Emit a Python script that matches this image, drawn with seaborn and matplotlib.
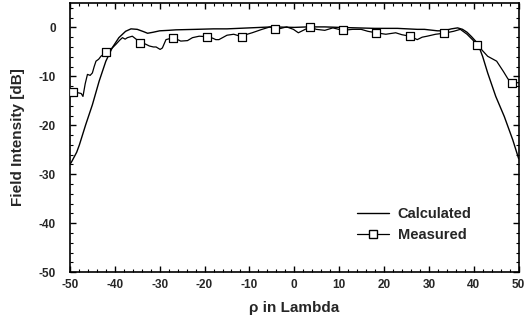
import matplotlib
matplotlib.use("Agg")
import matplotlib.pyplot as plt
from matplotlib.lines import Line2D
from matplotlib.ticker import MultipleLocator
import seaborn as sns
import pandas as pd

calc_x = [-50, -49.6, -48.5, -47.9, -46.5, -45, -43.5, -42, -40.6, -39.1, -37.6, -36.4, -35, -33.5,
          -32.7, -31.5, -30, -28, -26.4, -22, -18, -15, -10, -5, 0, 3, 6.8, 10, 14, 17.9, 23, 27.4,
          29, 31.9, 33.3, 35, 36.4, 37.5, 38.5, 39.5, 40.9, 42, 43.1, 44.9, 46.8, 48.7, 50]
calc_y = [-28, -27.4, -25.5, -24, -19.9, -15.8, -11, -6.9, -4.2, -2.1, -0.8, -0.3, -0.4, -0.9,
          -1.2, -1.0, -0.7, -0.6, -0.5, -0.4, -0.3, -0.3, -0.1, 0.1, 0.0, 0.1, 0.1, 0.0, -0.1, -0.2,
          -0.2, -0.4, -0.4, -0.7, -0.7, -0.3, -0.1, -0.4, -1.0, -1.9, -3.3, -6.0, -9.3, -14.1, -18.2,
          -23, -26.8]

meas_x = [-49.3, -48.5, -47.5, -47.1, -46.6, -46.1, -45.5, -45.0, -44.6, -44.2, -43.6, -43.1, -41.9,
          -40.9, -39.8, -38.9, -38.3, -37.7, -37.2, -36.1, -35.4, -34.3, -33.2, -32.3, -31.4, -30.8,
          -29.9, -29.4, -28.6, -27, -26, -25.3, -23.8, -22.7, -21.2, -19.4, -18.2, -17.5, -16.8, -15,
          -13.5, -11.7, -10.5, -9.4, -7.2, -5.4, -4.3, -3, -1.7, -0.2, 0.9, 2.0, 3.5, 4.9, 6.8, 8.6,
          10.8, 13, 14.9, 16.4, 18.2, 20.4, 22.6, 24, 25.8, 27.4, 28.5, 29.6, 31.5, 33.3, 35.5, 37,
          38.5, 39.8, 40.7, 42, 43.1, 45.1, 46.6, 47.6, 48.5, 50]
meas_y = [-13.2, -13.3, -13.5, -14.1, -11.5, -9.6, -9.8, -9.3, -8.0, -6.9, -6.5, -5.9, -5.1,
          -4.5, -3.5, -2.6, -2.1, -2.4, -2.1, -1.8, -2.3, -3.1, -3.4, -3.8, -4.0, -4.0,
          -4.5, -4.2, -2.5, -2.1, -2.5, -2.8, -2.7, -2.1, -1.8, -1.9, -2.2, -2.5, -2.5, -1.6,
          -1.4, -1.9, -1.4, -1.1, -0.4, 0.1, -0.4, -0.2, 0.1, -0.4, -1.1, -0.6, 0.1, -0.4, -0.6, -0.1,
          -0.6, -0.4, -0.4, -0.8, -1.1, -1.4, -1.1, -1.5, -1.8, -2.5, -2.0, -1.8, -1.4, -1.2, -0.8, -0.4,
          -1.4, -2.6, -3.5, -4.8, -5.9, -6.9, -9, -10.5, -11.3, -11.3]

mark_x = [-49.3, -41.9, -34.3, -27, -19.4, -11.7, -4.3, 3.5, 10.8, 18.2, 25.8, 33.3, 40.7, 48.5]
mark_y = [-13.2, -5.1, -3.1, -2.1, -1.9, -1.9, -0.4, 0.1, -0.6, -1.1, -1.8, -1.2, -3.5, -11.3]

x_ticks = [-50, -40, -30, -20, -10, 0, 10, 20, 30, 40, 50]
y_ticks = [0, -10, -20, -30, -40, -50]
series_names = ["Calculated", "Measured"]

sns.set_style("ticks")
plt.rcParams['font.family'] = ['Liberation Sans', 'DejaVu Sans']
plt.rcParams['axes.unicode_minus'] = False

fig = plt.figure(figsize=(5.26, 3.24), dpi=100)
ax = fig.add_axes([0.133, 0.160, 0.853, 0.831])

calc_df = pd.DataFrame({"x": calc_x, "y": calc_y})
meas_df = pd.DataFrame({"x": meas_x, "y": meas_y})
mark_df = pd.DataFrame({"x": mark_x, "y": mark_y})

sns.lineplot(data=calc_df, x="x", y="y", ax=ax, color="black", linewidth=1.0, sort=False)
sns.lineplot(data=meas_df, x="x", y="y", ax=ax, color="black", linewidth=0.9, sort=False)
sns.scatterplot(data=mark_df, x="x", y="y", ax=ax, marker="s", s=30, facecolor="white",
                edgecolor="black", linewidth=0.9, zorder=5)

ax.set_xlim(-50, 50)
ax.set_ylim(-50, 5)
ax.set_xticks(x_ticks)
ax.set_yticks(y_ticks)
ax.xaxis.set_minor_locator(MultipleLocator(2))
ax.yaxis.set_minor_locator(MultipleLocator(2))
ax.tick_params(which="both", direction="in", top=True, right=True, color="black")
ax.tick_params(which="major", length=4, width=1)
ax.tick_params(which="minor", length=2, width=0.8)
ax.tick_params(axis="y", which="major", pad=10)
ax.tick_params(axis="x", which="major", pad=5)
for lab in ax.get_xticklabels() + ax.get_yticklabels():
    lab.set_fontweight("bold")
    lab.set_fontsize(8.5)
for sp in ax.spines.values():
    sp.set_linewidth(1.2)
    sp.set_color("black")

ax.set_xlabel("ρ in Lambda", fontsize=11, fontweight="bold", labelpad=7)
ax.set_ylabel("Field Intensity [dB]", fontsize=11, fontweight="bold", labelpad=10)

handles = [Line2D([], [], color="black", linewidth=1.0),
           Line2D([], [], color="black", linewidth=0.9, marker="s", markersize=5.5,
                  markerfacecolor="white", markeredgecolor="black")]
leg = ax.legend(handles, series_names, loc="upper left", bbox_to_anchor=(0.61, 0.29),
                frameon=False, handlelength=2.2, handletextpad=0.6,
                labelspacing=0.45, prop={"weight": "bold", "size": 10.5})

fig.savefig("out.png", dpi=100)
